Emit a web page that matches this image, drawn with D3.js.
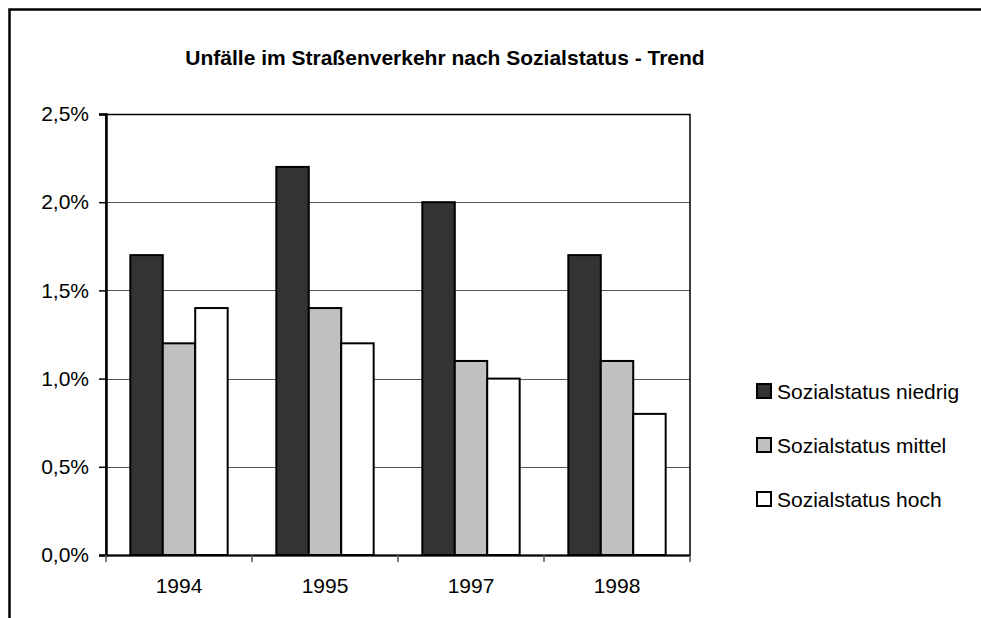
<!DOCTYPE html>
<html>
<head>
<meta charset="utf-8">
<script src="https://cdn.jsdelivr.net/npm/d3@7"></script>
<style>
  body { margin: 0; background: #fff; }
  svg { display: block; font-family: "Liberation Sans", Arial, sans-serif; }
</style>
</head>
<body>
<svg id="chart" width="981" height="618"></svg>
<script>
const width = 981;
const height = 618;

// data
const years = ['1994', '1995', '1997', '1998'];
const groups = ['Sozialstatus niedrig', 'Sozialstatus mittel', 'Sozialstatus hoch'];
const niedrig = [1.7, 2.2, 2.0, 1.7];
const mittel = [1.2, 1.4, 1.1, 1.1];
const hoch = [1.4, 1.2, 1.0, 0.8];
const yTicks = [0, 0.5, 1.0, 1.5, 2.0, 2.5];
const colors = ['#333333', '#c0c0c0', '#ffffff'];

const seriesValues = [niedrig, mittel, hoch];

const margin = { left: 106, right: 291, top: 114, bottom: 63 };
const fontSize = 21;

const svg = d3.select('#chart');

// outer frame (only top/left visible in the picture)
svg.append('rect')
  .attr('x', 9.5).attr('y', 9.5)
  .attr('width', 1200).attr('height', 1200)
  .attr('fill', 'none')
  .attr('stroke', '#000')
  .attr('stroke-width', 2.5);

svg.append('text')
  .attr('x', 445).attr('y', 65)
  .attr('text-anchor', 'middle')
  .attr('font-weight', 'bold')
  .attr('font-size', fontSize)
  .text('Unfälle im Straßenverkehr nach Sozialstatus - Trend');

const x = d3.scaleBand()
  .domain(years)
  .range([margin.left, width - margin.right]);

// excel style gap width 150%
const x1 = d3.scaleBand()
  .domain(groups)
  .range([0, x.bandwidth()])
  .paddingOuter(0.75)
  .paddingInner(0);

const y = d3.scaleLinear()
  .domain([0, 2.5])
  .range([height - margin.bottom, margin.top]);

// gridlines
svg.append('g')
  .selectAll('line')
  .data(yTicks.slice(1))
  .join('line')
  .attr('x1', margin.left).attr('x2', width - margin.right)
  .attr('y1', d => Math.round(y(d)) + 0.5).attr('y2', d => Math.round(y(d)) + 0.5)
  .attr('stroke', '#555')
  .attr('stroke-width', 1);

// plot area border
svg.append('rect')
  .attr('x', margin.left).attr('y', Math.round(y(2.5)) + 0.5)
  .attr('width', width - margin.right - margin.left)
  .attr('height', y(0) - y(2.5))
  .attr('fill', 'none')
  .attr('stroke', '#000')
  .attr('stroke-width', 1.5);

// bars
const rows = years.map((yr, i) => ({ year: yr, vals: groups.map((g, j) => ({ key: g, v: seriesValues[j][i], j })) }));

svg.append('g')
  .selectAll('g')
  .data(rows)
  .join('g')
  .attr('transform', d => `translate(${x(d.year)},0)`)
  .selectAll('rect')
  .data(d => d.vals)
  .join('rect')
  .attr('x', d => x1(d.key))
  .attr('y', d => y(d.v))
  .attr('width', x1.bandwidth())
  .attr('height', d => y(0) - y(d.v))
  .attr('fill', d => colors[d.j])
  .attr('stroke', '#000')
  .attr('stroke-width', 2);

// y axis
const yAxis = svg.append('g')
  .attr('transform', `translate(${margin.left},0)`)
  .call(d3.axisLeft(y).tickValues(yTicks).tickSize(7).tickPadding(10)
    .tickFormat(d => d3.format('.1f')(d).replace('.', ',') + '%'));
yAxis.select('.domain').attr('stroke-width', 2.5);
yAxis.selectAll('.tick line').attr('stroke-width', 1.5);
yAxis.selectAll('text').attr('font-size', fontSize).attr('fill', '#000');
yAxis.attr('font-family', null);

// x axis
const xAxis = svg.append('g')
  .attr('transform', `translate(0,${y(0)})`)
  .call(d3.axisBottom(x).tickSize(0).tickPadding(23));
xAxis.select('.domain').attr('stroke-width', 2);
xAxis.selectAll('text').attr('font-size', fontSize).attr('fill', '#000');
xAxis.attr('font-family', null);

// tick marks at category boundaries
svg.append('g')
  .selectAll('line')
  .data(years.map(d => x(d)).concat([x(years[years.length - 1]) + x.bandwidth()]))
  .join('line')
  .attr('x1', d => d).attr('x2', d => d)
  .attr('y1', y(0)).attr('y2', y(0) + 7)
  .attr('stroke', '#555')
  .attr('stroke-width', 1.5);

// legend
const legend = svg.append('g')
  .selectAll('g')
  .data(groups)
  .join('g')
  .attr('transform', (d, i) => `translate(757,${384 + i * 54})`);

legend.append('rect')
  .attr('width', 14).attr('height', 14)
  .attr('fill', (d, i) => colors[i])
  .attr('stroke', '#000')
  .attr('stroke-width', 2);

legend.append('text')
  .attr('x', 20).attr('y', 15)
  .attr('font-size', fontSize)
  .text(d => d);
</script>
</body>
</html>
